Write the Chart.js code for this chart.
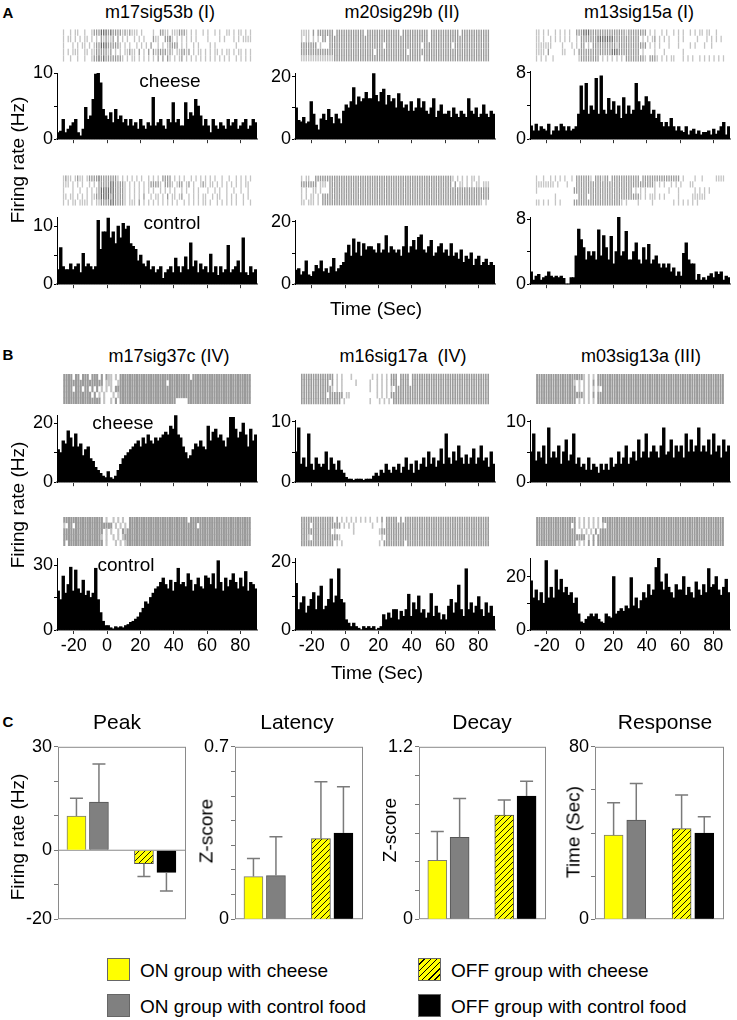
<!DOCTYPE html>
<html>
<head>
<meta charset="utf-8">
<script src="https://cdn.jsdelivr.net/npm/chart.js@4.4.1/dist/chart.umd.min.js"></script>
<style>
  body { margin: 0; background: #fff; width: 737px; height: 1020px; position: relative; overflow: hidden;
         font-family: "Liberation Sans", Arial, sans-serif; color: #000; }
  canvas { position: absolute; }
  .t { position: absolute; white-space: pre; line-height: 1; }
  .sw { position: absolute; width: 23px; height: 23px; box-sizing: border-box; border: 1px solid #666; }
</style>
</head>
<body>
<script>
// ---- time axis of every PSTH / raster (sec) ----
const timeStart = -30, timeEnd = 90, binWidth = 1.5;
const timeTicks = [-20, 0, 20, 40, 60, 80];

// ---- firing rate per 1.5 s bin (Hz) ----
const m17sig53bCheese = [1,1.2,3,1,1.5,2,2.5,3,1,0.5, 1.5,4.8,3,3.5,6,9.8,10.2,8.5,4.5,3.5, 3,4,2.5,4.5,3,3.5,2.5,3,2,3, 2,2.5,1.5,3,2,1.5,2.5,2,6.3,2, 2.5,3,2,1.5,3,2.5,5.5,2.5,3,2, 2,5.5,3,4,3.5,6,5,3.5,2,3, 2,1,3,2,1.5,2.5,2,1.5,3,2, 2.5,3,1.5,2,2.5,3,1.5,2,3,2.5];
const m17sig53bControl = [2.5,6.3,3,2.5,2.5,3.5,2.5,3,3.5,2, 5.3,3,3.5,3,2.5,3,11,6,9,9, 11.4,8,9,7,10,8,10.5,9.5,10,7, 6.5,6,4,5,3.5,3,4,2.5,3,2, 2.5,3,1,2,2.5,3,2,4.5,3,2, 3,4.7,2.5,7.1,3,4,2,3.5,2.5,3, 2,5.2,2,3,1.5,3,2,2.5,6.7,2, 2.5,3,4,2,8,2,1.5,3,2,2.5];
const m20sig29bCheese = [10,6,5.5,7,5,5.5,12,8,4.5,3, 6.5,8,6,9.5,7,5,8,6.5,5,9, 11,10,12,16.5,11,13.5,12,13,15,13, 13,21,14,12,15,16,11,14,12,13, 10,14.6,12,10,11,9,12,9,10,13, 10,12,9,8,10,13,7,9,11,8, 8,9,7,10,8,7,9,8,7,13, 9,8,10,7,8,11,8,7,9,8];
const m20sig29bControl = [4.5,5,3,4,7.5,3,2.5,4,6,5, 7.5,4,5,3.5,5.5,8.3,4,5,6,7, 10,12.5,9,14.5,10,13.5,9,13,11,12, 12,11,10,13,10,11,15.6,10,12,11, 10,11,9,12,18.5,10,12,14,11,15, 15.8,11,10,12,14,9,10,12,13,10, 11,9,13,9,10,8,11,7,9,8, 10,6,8,9,6,7,8,6,7,6];
const m13sig15aCheese = [1.6,1,1.8,1,1.5,1.2,1,1.8,0.5,1, 1.5,1,1.8,1.5,1,1.5,1,1.2,1.5,3, 6.4,3.5,6.7,3,4,3.5,7.3,3,7.6,3.5, 3,4.9,3.5,4.5,3,4,2.5,5,3,4, 3,3.5,6.7,4.5,3.5,4,5.1,4.5,3,3.5, 2.5,3,2,1.5,2,1.5,2.5,1.5,1,1.5, 1,0.8,1.5,0.5,1,1.2,0.6,1,0.5,0.8, 0.8,1,0.5,1.2,0.6,1,1.5,2,0.5,1.5];
const m13sig15aControl = [1.5,0.5,1,1.2,0.5,0.8,1,1.5,1,0.8, 1,0.8,1,0.7,0,0,0.8,0.8,3.5,6.8, 5.5,4.5,3,4,3.5,4,3,6.7,3.5,6, 4.5,3,5.9,2.5,4,8.3,3.5,4,6.5,3, 3,4,5.1,3,2.5,4.5,3,4.9,2.5,3, 3.5,2.5,2,2.5,2,2.5,1.5,2,1,1.5, 1,3.8,5.1,3,2.5,2.5,0.5,1.2,0.5,0.8, 0.5,1,1.3,0.8,1.5,1.2,1.5,0.5,1,0.8];
const m17sig37cCheese = [11,10,14,13,17.4,15,12,16.4,12,13, 9,11,12,8,7,5,4,3,2,1.5, 3.6,1.5,1,2,4,6,8,9,10,11, 12,13,14,12,15,13,16,14,13,15, 14,15,16,17,16,19,18,22.6,16,15, 12,10,8,9,11,13,12,14,12,11, 19,14,17,18,15,16,14,12,15,22, 22,18,15,17,20,16,12,18,14,16];
const m17sig37cControl = [18,14,24.9,17,21,29,18,27.7,19,17, 23,16,18,15,17,28.5,14,8,4,2, 2,1,0.5,1.5,1,1.5,1,2,2.5,3.5, 4,5,6,8,10,13,12,15,17,19, 20,22,24,21,19,23,18,22,28.5,21, 22,20,26,23,18,21,24,20,19,25, 24,21,26,19,32,22,18,24,20,23, 26,22,19,24,20,27,18,22,21,19];
const m16sig17aCheese = [5,9,3,4,2.5,8,3,2,4,3, 2.5,3,5,2,4,3,2,3.5,2,1.5, 0.8,0.5,0.5,0.3,0.5,0.5,0.5,0.3,0.5,0.5, 0.5,1,1.5,1,2,1.5,3,2,1.5,2.5, 2,3,1.5,2.5,4,2,3,1.5,3.5,2, 3,4,2.5,5,3,4,2.5,3.5,5.5,3, 8,4,3,5,3.5,6,4,3,4.5,3, 4,5.5,3,4,6,3.5,4,2.5,5,3];
const m16sig17aControl = [13.7,6,8,9.8,5,7,9,11,6,10, 12.9,6,7,9,15,8,10,18,9,8, 3,2,1,2,1,0.5,0,1,0.5,1, 0.5,1,0,0.5,1,4.5,3,5,3.5,6, 6,3,5.5,4,6,10.5,4,8,6,10, 5,6,3.5,5,10.7,4,7,5,3,4.5, 3,7,9,5,8,13.2,6,4,18,6, 8,5,7,9.8,6,4,8,5,7,4];
const m03sig13aCheese = [5,8,3.5,5,4,6,3,9,4,5, 4,6,3,5,7,3.5,4.5,8,3,4, 2.5,3,2,4,2,3,2.5,1.5,3,2, 3,2,4,2.5,3,5,3,4,6,3, 4,5,3.5,7,4,5,8,4,5,6, 5,4,6,9,4.5,5,7,4,6,5, 6,4,8,5,7,5,6,9,5,6, 5,7,4.5,8,5,6,4,7,5,6];
const m03sig13aControl = [18.4,12,15,11,14,10,26,12,16,12, 22.5,15,19,14,16,13,14,10,12,6, 3,2.5,4,5,6,5,6,4,3,2.5, 6,5,4.5,20,6,7,8,7,9,8, 19.6,9,12,8,11,14,12,17,13,15, 23.4,27,18,15,21,16,14,12,17,15, 15,20,13,16,14,12,18,15,13,17, 14,23,16,17,20,15,13,16,19,14];

// ---- raster rows: one char per 1.5 s bin, '.' no spike, 1-3 tick darkness ----
const m17sig53bCheeseSpikes = [
  "1..1.11..1 ..12223332 3222212121 11.1....1. .2211.1112 221.1.1..1 .1..1.1..1 1.1.11.1.1",
  "1.11.1.1.1 1.1.1.2121 12.2.1.1.. 1.1.1...21 1..2231.1. 1.1.1.1... .1....1.1. ..1.1.1111",
  "1...1.1.11 .1.1223332 22221.1.1. .1.1.1.2.. 1.1.12222. 1.1..1.1.. ..1.1..... ...1......",
  "1.1.111..1 1.11222221 2.1.1.1121 1.2.1.2.21 2222121.11 2212.1.11. 1.1.11.1.1 1.1.11.1.1",
  "1..1..1..1 ..12232322 222221.1.1 1.1.1.1.1. 2.2.21.1.1 2.1.1.1.1. 1.1.1.1.1. 1..1.1.1.1"];
const m17sig53bControlSpikes = [
  "1211.1211. 1222232222 2221.1.1.1 .1.1..1.1. 1.2222.1.1 .1..1.1.1. 1.1.1..1.. 1..1.1.1.1",
  "111.1.1.1. .1.1.22222 3322221.1. 1.1.1.1222 21.2221.12 2.12.1..12 1.11.1.1.1 .1.1.1.11.",
  "1...1..1.. 1.1.123333 3322221.1. 1.1.1.1.1. .1.1.1.1.. 1.1..1.1.. .1..1.1..1 ..1..1..1.",
  "11.11.1.1. 1.11223333 2322221.1. 1.1.2..1.1 1.1.2.11.1 2..1.1.1.1 1..1.11..1 .1.1..1.1.",
  "1.1.11.111 1.1.112222 3322221.11 1.2.1.1.1. 1.1.1.1.1. .1.1.1.1.1 1.1..1.1.1 .1.1..1..1"];
const m20sig29bCheeseSpikes = [
  "1111.2.222 2222.22222 2222222.22 2222222222 22.2222222 2222.22222 2222222.22 2222222222",
  "1.11.1.1.2 2.22222222 2222222222 2222222222 2222222222 2222.22222 2222222222 2222222222",
  "2222222.1. ..22222222 2222222222 22222.2222 2222222222 2.22222222 2222.22222 2222222222",
  "2222222222 2222222222 2222222222 2.22222222 22222.2222 2222222222 2222222222 2222222222",
  "1111111111 1111222222 2222222222 2222222222 2222222222 2.22222222 2222222222 2222222222"];
const m20sig29bControlSpikes = [
  "1.11..2222 2222222222 2222222222 2222222222 2222222222 2222222222 22221.1.1. 1.11.1....",
  "2222222.11 1.22222222 2222222222 2222222222 2222222222 2222222222 2222.2.11. 1.1.11.111",
  "1.1..11.1. ..22222222 2222222222 2222222222 2222222222 2222222222 2222222222 2222222222",
  "1.1.11.1.2 2222222222 2222222222 2222222222 2222222222 2222222222 2222222222 2222222222",
  "11.111.1.2 2222222222 2222222222 2222222222 2222222222 2222222222 2222222222 2222221.1."];
const m13sig15aCheeseSpikes = [
  "11.1.1..1. 1.1.1..222 3332222222 2222222212 2222222.1. 1..1.1..1. 1.1..1.1.1 1.11..1...",
  "11.1..1.1. 1.1.1..1.2 2222223333 3332222222 2222.1.1.1 2.1.1.1... 1.1.....1. ..1.1.1.1.",
  "1111111... .1...1.1.2 2.1.222222 2222122222 2222222.1. 1.1...1... 1....1.1.. .1..1.....",
  "1111.2.... .11...1.22 2222222222 2233322222 2222.1.... 1...1..... ..1....... ..........",
  "1.1.1..1.. ........12 2222222.1. 1.1.1.1.22 2222221.22 21.1.1.11. ..1.1.1..1 .1.1.1.1.1"];
const m13sig15aControlSpikes = [
  "1..1..1.1. 1.1..1.222 2221.22212 2.22222222 2222.22222 2222222222 2.1....1.. 1.....1111",
  "11111111.1 ...1...222 2222222222 2222222222 2222222222 1.1.1..1.1 .1...11... ..........",
  "1......... ......2222 2222222222 2222222222 2.1.1.1... 1.....1... 1......1.1 .1.1......",
  "........1. ........22 22.2222222 2222222222 22221.1.11 1.1.1..... 1.....1111 11........",
  "11.1.1..1. 1.....2222 2222222222 2222221.1. ...1.....1 ........1. 1.1.1.1.1. .........."];
const m17sig37cCheeseSpikes = [
  "2222.22.22 2.222.2.21 1.1.222222 2222222222 2222222222 2222.22222 2222222222 2222222222",
  "2222222222 2222222.11 1..1222222 2222222222 2222.22222 2222222222 2222222222 2222222222",
  "2222.222.2 2.2.2.1.1. 1.22222222 2222222222 2222222222 2222222222 2222222222 2222222222",
  "2222222222 22.2.1.1.. .1.1222222 2222222222 2222222222 2222222222 2222222222 2222222222",
  "2222222222 222222.1.. 1.2.222222 2222222222 22222222.. ...2222222 2222222222 2222222222"];
const m17sig37cControlSpikes = [
  "2222222222 2222222.1. .1.1.1..22 2222222222 2222222222 222.222222 2222222222 2222222222",
  "1.22.22222 2222222222 2.1.1.1.22 2222222222 2222222222 2222222.22 2222222222 2222222222",
  "2222222222 2222222.1. 1..1.21222 2222222222 2222222222 2222222222 2222222222 2222222222",
  "2222222222 2222221.1. .1.1.12222 2222222222 2222222222 2222222222 2222222222 2222222222",
  "2.22222222 2222222.1. ..1.1.1222 2222222222 2222222222 2222222222 2222222222 2222222222"];
const m16sig17aCheeseSpikes = [
  "2222222222 2222.1.1.. .1........ 1.1.1.1.22 2.2222.222 2222222222 2222222222 2222222222",
  "2222222222 22.2.1.1.. ...1.....1 ..1.1.1.22 2.2222.222 2222222222 2222222222 2222222222",
  "2222222222 2221.1.1.. .........1 ..1.1.1.1. 2222222222 2222222222 2222222222 2222222222",
  "2222222222 2.222222.1 1......... ..1.1.1.22 2222222222 2222222222 2222222222 2222222222",
  "2222222222 2222222.1. .........1 ...1.1.1.2 2222222222 2222222222 2222222222 2222222222"];
const m16sig17aControlSpikes = [
  "2222222222 2222.2.1.1 .1.1.1.1.1 ..1.2.2222 2.2.222222 2222222222 2222222222 2222222222",
  "2222.22222 2222222.1. 1.1....... 1...1.2222 2222222222 2222222222 2222222222 2222222222",
  "2222222222 222.1..... ..1....... ...1222222 2222222222 2222222222 2222222222 2222222222",
  "2221.22222 2222221... .......... ....1.2222 2222222222 2222222222 2222222222 2222222222",
  "2222222222 2222.1.1.. .......... ...1.22222 2222.22222 2222222222 2222222222 2222222222"];
const m03sig13aCheeseSpikes = [
  "2222222222 2222222222 1.1.1.2222 2222222222 2222222222 2222222222 2222222222 2222222222",
  "2222222222 2222221.1. 1.1.2.2222 2222222222 2222222222 2222222222 2222222222 2222222222",
  "2222222222 2222222.1. 1.1.1.1.22 2222222222 2222222222 2222222222 2222222222 2222222222",
  "2222222222 2222222222 1.1.2.2222 2222222222 2222222222 2222222222 2222222222 2222222222",
  "2222222222 2222222.1. 1.1.1.2222 2222222222 2222222222 2222222222 2222222222 2222222222"];
const m03sig13aControlSpikes = [
  "2222222222 2222222.1. 1.1.1.1.22 2222222222 2222222222 2222222222 2222222222 2222222222",
  "2222222222 22222.2.1. 1.1.1.1.1. 2222222222 2222222222 2222222222 2222222222 2222222222",
  "2222222222 2222222..1 .1.1.2.222 2222222222 2222222222 2222222222 2222222222 2222222222",
  "2222222222 2222222222 2.1.2.2222 2222222222 2222222222 2222222222 2222222222 2222222222",
  "2222222222 2222222.1. 1.2.2.2222 2222222222 2222222222 2222222222 2222222222 2222222222"];

// ---- panel C: group means and SEM ----
const groupNames = ['ON group with cheese', 'ON group with control food', 'OFF group with cheese', 'OFF group with control food'];
const groupSlots = [1, 2, 4, 5];
const peakMean = [9.9, 14, -3.9, -6.4];
const peakErr = [5.2, 11, 3.7, 5.4];
const latencyMean = [0.173, 0.177, 0.327, 0.35];
const latencyErr = [0.073, 0.158, 0.231, 0.188];
const decayMean = [0.41, 0.57, 0.725, 0.857];
const decayErr = [0.2, 0.27, 0.105, 0.103];
const responseMean = [39, 46, 42, 40];
const responseErr = [15, 17, 15.6, 7.5];

// ---------------------------------------------------------------
const FONT = '"Liberation Sans", Arial, sans-serif';
Chart.defaults.font.family = FONT;
Chart.defaults.color = '#000';
const W = 200;
const shade = { '1': '#c4c4c4', '2': '#9a9a9a', '3': '#6a6a6a' };
const common = {
  responsive: false, animation: false, events: [], devicePixelRatio: 1,
  plugins: { legend: { display: false }, tooltip: { enabled: false } }
};

function makeCanvas(left, top, w, h) {
  const c = document.createElement('canvas');
  c.width = w; c.height = h;
  c.style.left = left + 'px'; c.style.top = top + 'px';
  c.style.width = w + 'px'; c.style.height = h + 'px';
  document.body.appendChild(c);
  return c;
}

function text(str, x, y, size, opt = {}) {
  const d = document.createElement('div');
  d.className = 't';
  d.textContent = str;
  d.style.left = x + 'px';
  d.style.top = y + 'px';
  d.style.fontSize = size + 'px';
  if (opt.bold) d.style.fontWeight = 'bold';
  if (opt.left) d.style.transform = 'translate(0,-50%)';
  else d.style.transform = 'translate(-50%,-50%)' + (opt.rotate ? ' rotate(-90deg)' : '');
  document.body.appendChild(d);
}

function psth(values, x0, yZero, yTop, yMax, yTicks, showTime) {
  const padL = 40, padT = 12, padR = 14, xh = showTime ? 28 : 6;
  const cv = makeCanvas(x0 - padL, yTop - padT, padL + W + padR, padT + (yZero - yTop) + xh);
  new Chart(cv, {
    type: 'bar',
    data: { datasets: [{
      data: values.map((v, i) => ({ x: timeStart + (i + 0.5) * binWidth, y: v })),
      backgroundColor: '#000', borderWidth: 0, barPercentage: 1, categoryPercentage: 1, inflateAmount: 0.45
    }] },
    options: {
      ...common,
      layout: { padding: { top: padT, right: padR, left: 0, bottom: 0 } },
      scales: {
        x: {
          type: 'linear', min: timeStart, max: timeEnd, offset: false,
          afterBuildTicks: s => { s.ticks = timeTicks.map(v => ({ value: v })); },
          afterFit: s => { s.height = xh; },
          grid: { offset: false, drawOnChartArea: false, tickLength: 4, color: '#333' },
          border: { color: '#8c8c8c', width: 2 },
          ticks: { display: showTime, font: { size: 18 }, padding: 1, maxRotation: 0, autoSkip: false }
        },
        y: {
          min: 0, max: yMax,
          afterBuildTicks: s => { s.ticks = yTicks.map(v => ({ value: v })); },
          afterFit: s => { s.width = padL; },
          grid: { drawOnChartArea: false, tickLength: 3, color: '#000' },
          border: { color: '#000', width: 1 },
          ticks: { font: { size: 18 }, padding: 1,
                   callback: (v, i) => (i === 0 || i === yTicks.length - 1) ? v : '' }
        }
      }
    }
  });
}

function raster(rows, x0, top, h, tickW) {
  const cv = makeCanvas(x0, top, W, h);
  const pts = [];
  rows.forEach((row, r) => {
    const s = row.replace(/ /g, '');
    for (let i = 0; i < s.length; i++) {
      if (s[i] !== '.') pts.push({ x: timeStart + (i + 0.5) * (timeEnd - timeStart) / s.length, y: r + 1, k: s[i] });
    }
  });
  new Chart(cv, {
    type: 'scatter',
    data: { datasets: [{
      data: pts, pointStyle: 'line', pointRotation: 90, pointRadius: h / 13, pointBorderWidth: tickW,
      pointBorderColor: c => shade[c.raw ? c.raw.k : '2']
    }] },
    options: {
      ...common,
      layout: { padding: 0 },
      scales: {
        x: { display: false, min: timeStart, max: timeEnd },
        y: { display: false, min: 0.5, max: 5.5, reverse: true }
      }
    }
  });
}

// hatch pattern for the OFF / cheese bars
function makeHatch() {
  const c = document.createElement('canvas');
  c.width = 6; c.height = 6;
  const g = c.getContext('2d');
  g.fillStyle = '#ffff00'; g.fillRect(0, 0, 6, 6);
  g.strokeStyle = '#000'; g.lineWidth = 0.9;
  g.beginPath();
  g.moveTo(0, 6); g.lineTo(6, 0);
  g.moveTo(-1, 1); g.lineTo(1, -1);
  g.moveTo(5, 7); g.lineTo(7, 5);
  g.stroke();
  return g.createPattern(c, 'repeat');
}
const groupFills = ['#ffff00', '#808080', makeHatch(), '#000000'];
const groupEdges = ['#7a7a7a', '#555555', '#555555', '#000000'];

const boxPlugin = {
  id: 'box',
  beforeDatasetsDraw(chart) {
    const { left, top, right, bottom } = chart.chartArea;
    const g = chart.ctx;
    g.save();
    g.strokeStyle = '#8a8a8a'; g.lineWidth = 1;
    g.strokeRect(left + 0.5, top + 0.5, right - left - 1, bottom - top - 1);
    const z = chart.scales.y.getPixelForValue(0);
    if (z > top + 2 && z < bottom - 2) {
      g.beginPath(); g.moveTo(left, z); g.lineTo(right, z); g.stroke();
    }
    g.restore();
  }
};

function errorBars(errs) {
  return {
    id: 'errbars',
    afterDatasetsDraw(chart) {
      const g = chart.ctx, ys = chart.scales.y, meta = chart.getDatasetMeta(0);
      const data = chart.data.datasets[0].data;
      g.save();
      g.strokeStyle = '#7a7a7a'; g.lineWidth = 1.5;
      meta.data.forEach((bar, i) => {
        const v = data[i].y;
        const end = ys.getPixelForValue(v + Math.sign(v) * errs[i]);
        g.beginPath();
        g.moveTo(bar.x, bar.y); g.lineTo(bar.x, end);
        g.moveTo(bar.x - 6.5, end); g.lineTo(bar.x + 6.5, end);
        g.stroke();
      });
      g.restore();
    }
  };
}

function summary(vals, errs, left, right, yMin, yMax, yTicks, yLabels) {
  const top = 746, bottom = 928, padL = 48, padT = 12;
  const cv = makeCanvas(left - padL, top - padT, padL + (right - left) + 4, padT + (bottom - top) + 4);
  new Chart(cv, {
    type: 'bar',
    data: { datasets: [{
      data: groupSlots.map((s, i) => ({ x: s, y: vals[i] })),
      backgroundColor: groupFills, borderColor: groupEdges, borderWidth: 1, barThickness: 19
    }] },
    options: {
      ...common,
      layout: { padding: { top: padT, right: 4, bottom: 4, left: 0 } },
      scales: {
        x: { type: 'linear', display: false, min: 0.18, max: 5.87, offset: false, grid: { offset: false } },
        y: {
          min: yMin, max: yMax,
          afterBuildTicks: s => { s.ticks = yTicks.map(v => ({ value: v })); },
          afterFit: s => { s.width = padL; },
          grid: { drawOnChartArea: false, tickLength: 4, color: '#777' },
          border: { display: false },
          ticks: { font: { size: 18 }, padding: 2, callback: v => yLabels.includes(v) ? v : '' }
        }
      }
    },
    plugins: [boxPlugin, errorBars(errs)]
  });
}

// ---- panel A ----
raster(m17sig53bCheeseSpikes, 57, 24, 43, 1.3);
raster(m20sig29bCheeseSpikes, 295, 24, 43, 1.4);
raster(m13sig15aCheeseSpikes, 530, 24, 43, 1.3);
psth(m17sig53bCheese, 57, 145, 73, 10, [0, 5, 10], false);
psth(m20sig29bCheese, 295, 145, 73, 21.2, [0, 10, 20], false);
psth(m13sig15aCheese, 530, 145, 71, 8.2, [0, 4, 8], false);
raster(m17sig53bControlSpikes, 57, 170, 41, 1.3);
raster(m20sig29bControlSpikes, 295, 170, 41, 1.4);
raster(m13sig15aControlSpikes, 530, 170, 41, 1.3);
psth(m17sig53bControl, 57, 290, 217, 11.6, [0, 5, 10], false);
psth(m20sig29bControl, 295, 290, 220, 20.6, [0, 10, 20], false);
psth(m13sig15aControl, 530, 290, 217, 8.3, [0, 4, 8], false);

// ---- panel B ----
raster(m17sig37cCheeseSpikes, 57, 368, 42, 2.1);
raster(m16sig17aCheeseSpikes, 295, 368, 42, 1.6);
raster(m03sig13aCheeseSpikes, 530, 368, 42, 1.9);
psth(m17sig37cCheese, 57, 488, 415, 22.8, [0, 10, 20], false);
psth(m16sig17aCheese, 295, 488, 420, 10.3, [0, 5, 10], false);
psth(m03sig13aCheese, 530, 488, 420, 10.3, [0, 5, 10], false);
raster(m17sig37cControlSpikes, 57, 511, 41, 2.1);
raster(m16sig17aControlSpikes, 295, 511, 41, 1.6);
raster(m03sig13aControlSpikes, 530, 511, 41, 1.9);
psth(m17sig37cControl, 57, 630, 558, 33.3, [0, 15, 30], true);
psth(m16sig17aControl, 295, 630, 558, 21.2, [0, 10, 20], true);
psth(m03sig13aControl, 530, 630, 558, 27, [0, 10, 20], true);

// ---- panel C ----
summary(peakMean, peakErr, 58, 186, -20, 30, [-20, -10, 0, 10, 20, 30], [-20, 0, 30]);
summary(latencyMean, latencyErr, 235, 363, 0, 0.7, [0, 0.1, 0.2, 0.3, 0.4, 0.5, 0.6, 0.7], [0, 0.7]);
summary(decayMean, decayErr, 419, 546, 0, 1.2, [0, 0.2, 0.4, 0.6, 0.8, 1, 1.2], [0, 1.2]);
summary(responseMean, responseErr, 595, 724, 0, 80, [0, 20, 40, 60, 80], [0, 80]);

// ---- text ----
text('A', 8, 12, 15, { bold: true });
text('B', 8, 354, 15, { bold: true });
text('C', 8, 721, 15, { bold: true });
text('m17sig53b (I)', 160, 12, 18);
text('m20sig29b (II)', 402, 12, 18);
text('m13sig15a (I)', 639, 12, 18);
text('m17sig37c (IV)', 169, 356, 18);
text('m16sig17a  (IV)', 403, 356, 18);
text('m03sig13a (III)', 641, 356, 18);
text('cheese', 170, 80, 19);
text('control', 172, 222, 19);
text('cheese', 123, 422, 19);
text('control', 126, 564, 19);
text('Firing rate (Hz)', 17, 160, 19, { rotate: true });
text('Firing rate (Hz)', 17, 505, 19, { rotate: true });
text('Time (Sec)', 376, 308, 19);
text('Time (Sec)', 377, 672, 19);
text('Peak', 117, 721, 21);
text('Latency', 297, 721, 21);
text('Decay', 482, 721, 21);
text('Response', 665, 721, 21);
text('Firing rate (Hz)', 17, 837, 19, { rotate: true });
text('Z-score', 206, 831, 19, { rotate: true });
text('Z-score', 389, 830, 19, { rotate: true });
text('Time (Sec)', 573, 832, 19, { rotate: true });

// ---- legend ----
const swatchCss = [
  'background:#ffff00',
  'background:#808080',
  'background:repeating-linear-gradient(135deg,#ffff00 0 3.4px,#000 3.4px 4.4px)',
  'background:#000'
];
const legendPos = [[107, 970], [107, 1006], [418, 970], [418, 1006]];
groupNames.forEach((name, i) => {
  const [x, y] = legendPos[i];
  const s = document.createElement('div');
  s.className = 'sw';
  s.style.cssText = swatchCss[i] + ';left:' + x + 'px;top:' + (y - 12) + 'px';
  document.body.appendChild(s);
  text(name, x + 33, y, 19, { left: true });
});
</script>
</body>
</html>
